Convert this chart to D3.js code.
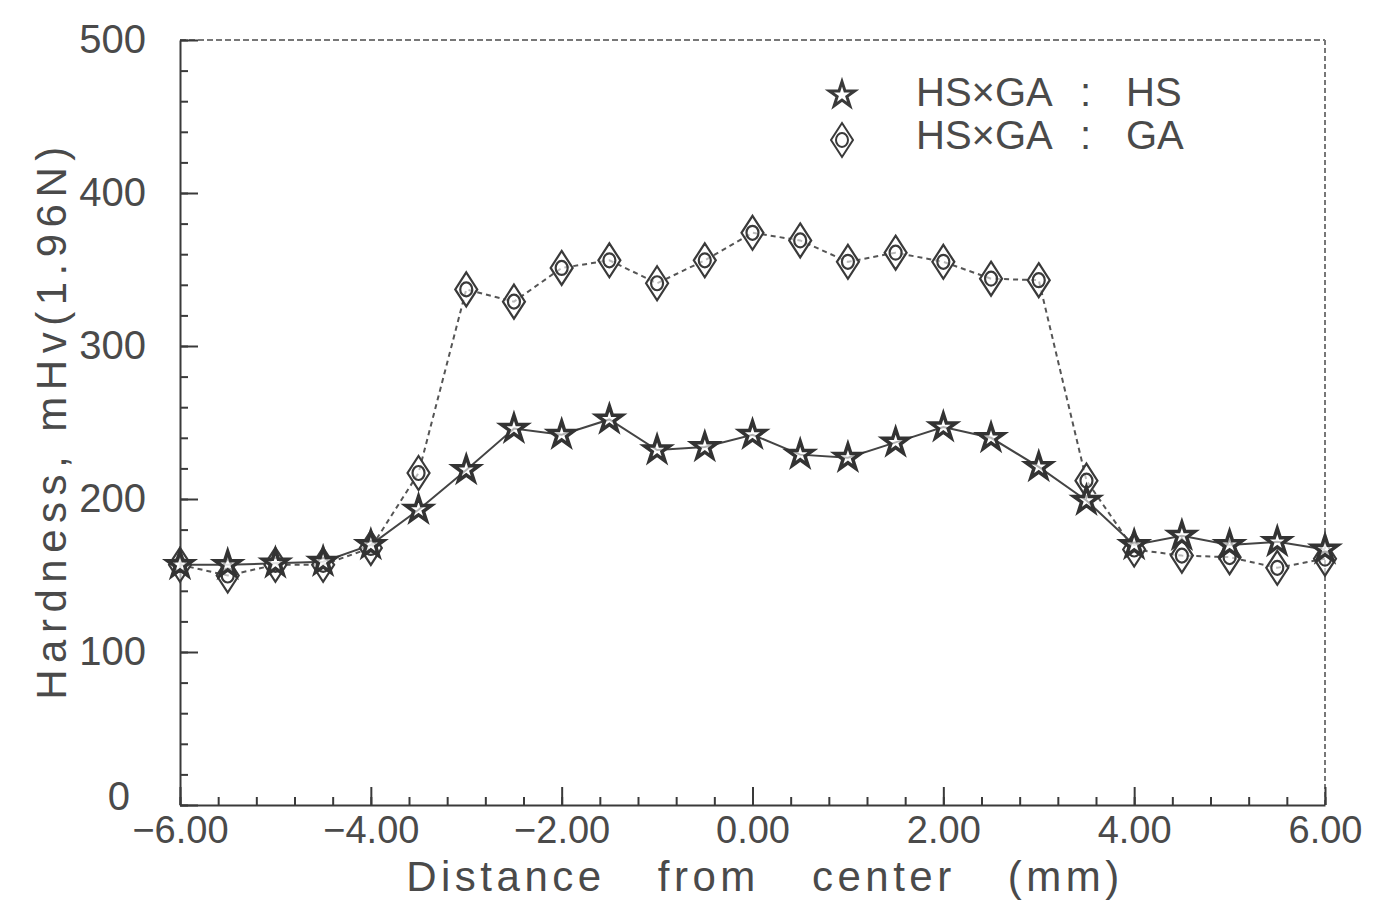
<!DOCTYPE html>
<html>
<head>
<meta charset="utf-8">
<script src="https://cdn.jsdelivr.net/npm/d3@7.9.0/dist/d3.min.js"></script>
<style>
  body { margin: 0; background: #fff; }
  svg { display: block; }
  text { font-family: "Liberation Sans", Arial, sans-serif; fill: #4a4a4a; }
  .tick text { font-size: 40px; }
  .xticks .tick text { font-size: 38px; }
  .tick line { stroke: #3a3a3a; stroke-width: 2; }
  .domain { stroke: #3a3a3a; stroke-width: 2; }
</style>
</head>
<body>
<svg width="1373" height="901"></svg>
<script>
// distance from center (mm), measured every 0.5 mm
const distance = [-6, -5.5, -5, -4.5, -4, -3.5, -3, -2.5, -2, -1.5, -1, -0.5, 0,
  0.5, 1, 1.5, 2, 2.5, 3, 3.5, 4, 4.5, 5, 5.5, 6];

// HSxGA : HS  (stars)
const hardnessHS = [157, 157, 158, 159, 170, 193, 219, 246, 242, 252, 232, 234, 242,
  229, 227, 237, 247, 240, 221, 199, 170, 176, 170, 172, 167];

// HSxGA : GA  (diamonds)
const hardnessGA = [157, 150, 157, 157, 168, 217, 337, 329, 351, 356, 341, 356, 374,
  369, 355, 361, 355, 344, 343, 212, 167, 163, 162, 155, 161];

const xMajor = [-6, -4, -2, 0, 2, 4, 6];
const yMajor = [0, 100, 200, 300, 400, 500];
const seriesNames = ["HS\u00d7GA", "HS\u00d7GA"];
const seriesTags = ["HS", "GA"];

const svg = d3.select("svg");

const x = d3.scaleLinear().domain([-6, 6]).range([180, 1325]);
const y = d3.scaleLinear().domain([0, 500]).range([805, 40]);

// frame: top and right edges, faint dotted
svg.append("line")
  .attr("x1", x(-6)).attr("x2", x(6)).attr("y1", y(500)).attr("y2", y(500))
  .attr("stroke", "#777").attr("stroke-width", 2).attr("stroke-dasharray", "6,3");
svg.append("line")
  .attr("x1", x(6)).attr("x2", x(6)).attr("y1", y(500)).attr("y2", y(0))
  .attr("stroke", "#777").attr("stroke-width", 2).attr("stroke-dasharray", "5,3");

// x axis: minor ticks every 0.4 mm, major every 2 mm, pointing inward
const xMinor = d3.range(-6, 6.001, 0.4);
svg.append("g")
  .attr("transform", `translate(0,${y(0)})`)
  .call(d3.axisBottom(x).tickValues(xMinor).tickSize(-8).tickSizeOuter(0).tickFormat(""));
svg.append("g")
  .attr("class", "xticks")
  .attr("transform", `translate(0,${y(0)})`)
  .call(d3.axisBottom(x).tickValues(xMajor).tickSize(-18).tickSizeOuter(0)
    .tickPadding(11).tickFormat(d3.format(".2f")))
  .call(g => g.select(".domain").remove());

// y axis: minor ticks every 20, major every 100
svg.append("g")
  .attr("transform", `translate(${x(-6)},0)`)
  .call(d3.axisLeft(y).tickValues(d3.range(0, 501, 20)).tickSize(-8).tickSizeOuter(0).tickFormat(""));
svg.append("g")
  .attr("transform", `translate(${x(-6)},0)`)
  .call(d3.axisLeft(y).tickValues(yMajor).tickSize(-18).tickSizeOuter(0)
    .tickPadding(34).tickFormat(d3.format("d")))
  .call(g => g.select(".domain").remove())
  // the "0" sits tucked above the "-6.00" label
  .call(g => g.selectAll(".tick text").filter(d => d === 0)
    .attr("x", -50).attr("dy", "0.12em"));

// axis titles
svg.append("text")
  .attr("x", 765).attr("y", 891)
  .attr("text-anchor", "middle")
  .style("font-size", "42px")
  .style("letter-spacing", "4.5px")
  .style("word-spacing", "36px")
  .text("Distance from center (mm)");

svg.append("text")
  .attr("transform", "translate(66,420) rotate(-90)")
  .attr("text-anchor", "middle")
  .style("font-size", "42px")
  .style("letter-spacing", "6.5px")
  .text("Hardness, mHv(1.96N)");

// lines
const line = d3.line().x((d, i) => x(distance[i])).y(d => y(d));

svg.append("path")
  .datum(hardnessGA)
  .attr("d", line)
  .attr("fill", "none").attr("stroke", "#555").attr("stroke-width", 2)
  .attr("stroke-dasharray", "5,4");

svg.append("path")
  .datum(hardnessHS)
  .attr("d", line)
  .attr("fill", "none").attr("stroke", "#444").attr("stroke-width", 2);

// markers
const star = d3.symbol().type(d3.symbolStar).size(200);
const diamondPath = "M0,-17L11,0L0,17L-11,0Z M6,0A6,7 0 1,1 -6,0A6,7 0 1,1 6,0";

svg.append("g").selectAll("path")
  .data(hardnessGA)
  .join("path")
  .attr("transform", (d, i) => `translate(${x(distance[i])},${y(d)})`)
  .attr("d", diamondPath)
  .attr("fill", "#fff").attr("fill-opacity", 0.6)
  .attr("stroke", "#3a3a3a").attr("stroke-width", 2.2);

svg.append("g").selectAll("path")
  .data(hardnessHS)
  .join("path")
  .attr("transform", (d, i) => `translate(${x(distance[i])},${y(d)})`)
  .attr("d", star)
  .attr("fill", "#fff").attr("fill-opacity", 0.6)
  .attr("stroke", "#333").attr("stroke-width", 3.5);

// legend
const legend = svg.append("g");
const legendRows = [
  { name: seriesNames[0], tag: seriesTags[0], y: 92 },
  { name: seriesNames[1], tag: seriesTags[1], y: 135 }
];
legendRows.forEach((r, i) => {
  legend.append("path")
    .attr("transform", `translate(842,${r.y + (i === 0 ? 3 : 5)})`)
    .attr("d", i === 0 ? d3.symbol().type(d3.symbolStar).size(200)() : diamondPath)
    .attr("fill", "none").attr("stroke", "#3a3a3a").attr("stroke-width", i === 0 ? 3 : 2);
  legend.append("text").attr("x", 916).attr("y", r.y + 14).style("font-size", "40px").text(r.name);
  legend.append("text").attr("x", 1080).attr("y", r.y + 14).style("font-size", "40px").text(":");
  legend.append("text").attr("x", 1126).attr("y", r.y + 14).style("font-size", "40px").text(r.tag);
});
</script>
</body>
</html>
